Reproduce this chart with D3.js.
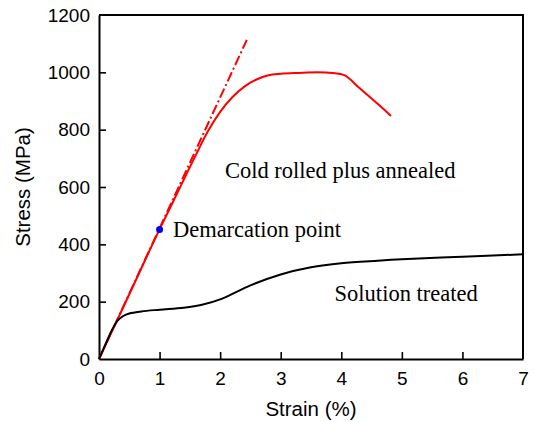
<!DOCTYPE html>
<html>
<head>
<meta charset="utf-8">
<script src="https://cdn.jsdelivr.net/npm/d3@7"></script>
<style>
  body { margin: 0; background: #fff; }
  svg { display: block; }
</style>
</head>
<body>
<div id="chart"></div>
<script>
// --- DATA ---
const coldStrain = [0, 0.5, 1.0, 1.3, 1.6, 1.8, 2.0, 2.2, 2.4, 2.6, 2.8, 3.0, 3.3, 3.6, 3.9, 4.05, 4.3, 4.6, 4.82];
const coldStress = [0, 226, 452, 582, 712, 795, 862, 913, 950, 975, 990, 995, 998, 1000, 997, 990, 945, 890, 848];

const solStrain = [0, 0.1, 0.2, 0.25, 0.3, 0.4, 0.5, 0.7, 1.0, 1.4, 1.7, 2.0, 2.5, 3.0, 3.5, 4.0, 4.6, 5.0, 6.0, 7.0];
const solStress = [0, 48, 95, 115, 132, 150, 159, 166, 172, 179, 189, 208, 257, 295, 320, 334, 343, 348, 357, 365];

const elasticStrain = [0, 2.44];
const elasticStress = [0, 1113];

const demarcation = { strain: 1.0, stress: 452 };

const xTicks = [0, 1, 2, 3, 4, 5, 6, 7];
const yTicks = [0, 200, 400, 600, 800, 1000, 1200];

const labels = [
    { text: "Cold rolled plus annealed", strain: 2.08, stress: 658 },
    { text: "Demarcation point", strain: 1.22, stress: 452 },
    { text: "Solution treated", strain: 3.89, stress: 230 }
];

// --- SETUP ---
const width = 534, height = 422;
const margin = { top: 15, right: 11, bottom: 63, left: 99 };

const svg = d3.select("#chart").append("svg")
    .attr("width", width)
    .attr("height", height);

const x = d3.scaleLinear().domain([0, 7]).range([margin.left, width - margin.right]);
const y = d3.scaleLinear().domain([0, 1200]).range([height - margin.bottom, margin.top]);

// --- AXES ---
const xAxis = svg.append("g")
    .attr("transform", `translate(0,${y(0)})`)
    .call(d3.axisBottom(x).tickValues(xTicks).tickFormat(d3.format("d"))
        .tickSizeInner(-7).tickSizeOuter(0).tickPadding(13));

const yAxis = svg.append("g")
    .attr("transform", `translate(${x(0)},0)`)
    .call(d3.axisLeft(y).tickValues(yTicks).tickFormat(d3.format("d"))
        .tickSizeInner(-7).tickSizeOuter(0).tickPadding(9));

[xAxis, yAxis].forEach(a => {
    a.selectAll("path.domain").attr("stroke", "#000").attr("stroke-width", 2);
    a.selectAll(".tick line").attr("stroke", "#000").attr("stroke-width", 1.6);
    a.selectAll(".tick text")
        .attr("fill", "#000")
        .attr("font-family", "Liberation Sans, Arial, sans-serif")
        .attr("font-size", 19);
});
xAxis.selectAll(".tick line").filter(d => d === 0 || d === 7).remove();
yAxis.selectAll(".tick line").filter(d => d === 0 || d === 1200).remove();

// box top / right
svg.append("path")
    .attr("d", `M${x(0)},${y(1200)}H${x(7)}V${y(0)}`)
    .attr("fill", "none")
    .attr("stroke", "#000")
    .attr("stroke-width", 2);

// axis titles
svg.append("text")
    .attr("x", (x(0) + x(7)) / 2)
    .attr("y", 416)
    .attr("text-anchor", "middle")
    .attr("font-family", "Liberation Sans, Arial, sans-serif")
    .attr("font-size", 20.5)
    .text("Strain (%)");

svg.append("text")
    .attr("transform", `translate(30,${(y(0) + y(1200)) / 2}) rotate(-90)`)
    .attr("text-anchor", "middle")
    .attr("font-family", "Liberation Sans, Arial, sans-serif")
    .attr("font-size", 20.5)
    .text("Stress (MPa)");

// --- LINES ---
const line = d3.line()
    .x(d => x(d[0]))
    .y(d => y(d[1]))
    .curve(d3.curveMonotoneX);

svg.append("path")
    .datum(elasticStrain.map((s, i) => [s, elasticStress[i]]))
    .attr("d", d3.line().x(d => x(d[0])).y(d => y(d[1])))
    .attr("fill", "none")
    .attr("stroke", "#ff0000")
    .attr("stroke-width", 2)
    .attr("stroke-dasharray", "10,3,2,3");

svg.append("path")
    .datum(coldStrain.map((s, i) => [s, coldStress[i]]))
    .attr("d", line)
    .attr("fill", "none")
    .attr("stroke", "#ff0000")
    .attr("stroke-width", 2);

svg.append("path")
    .datum(solStrain.map((s, i) => [s, solStress[i]]))
    .attr("d", line.curve(d3.curveCatmullRom.alpha(0.5)))
    .attr("fill", "none")
    .attr("stroke", "#000")
    .attr("stroke-width", 2);

svg.append("circle")
    .attr("cx", x(demarcation.strain))
    .attr("cy", y(demarcation.stress))
    .attr("r", 3.5)
    .attr("fill", "#0000ff");

// --- ANNOTATIONS ---
svg.selectAll("text.label")
    .data(labels)
    .join("text")
    .attr("class", "label")
    .attr("x", d => x(d.strain))
    .attr("y", d => y(d.stress))
    .attr("dy", "0.35em")
    .attr("font-family", "Liberation Serif, Times New Roman, serif")
    .attr("font-size", 22.5)
    .attr("fill", "#000")
    .text(d => d.text);
</script>
</body>
</html>
